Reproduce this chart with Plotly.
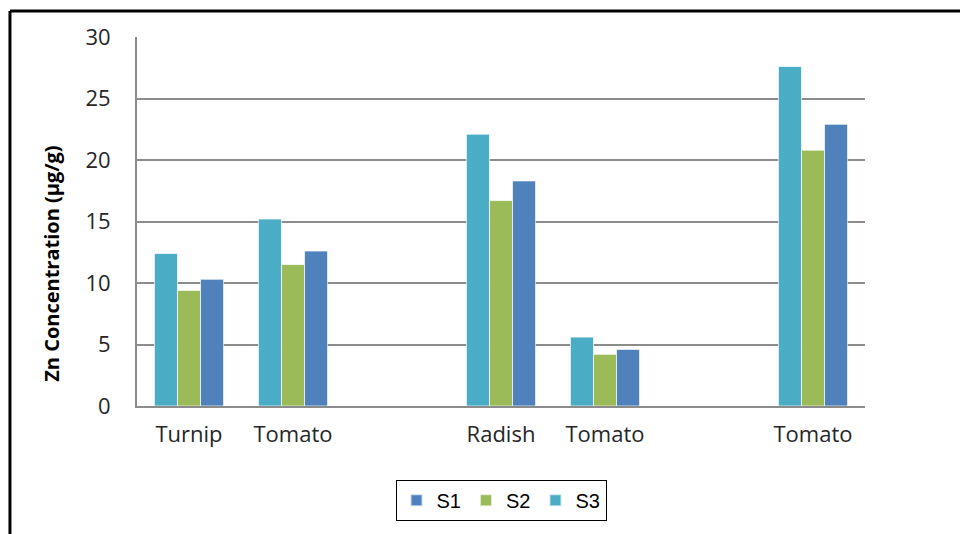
import plotly.graph_objects as go

# Crop slots along the x axis (blank slots separate the groups)
categories = ["Turnip", "Tomato", "", "Radish", "Tomato", "", "Tomato"]

# Zn concentration (µg/g) per crop for each site
s1 = [10.3, 12.6, None, 18.3, 4.6, None, 22.9]
s2 = [9.4, 11.5, None, 16.7, 4.2, None, 20.8]
s3 = [12.4, 15.2, None, 22.1, 5.6, None, 27.6]

yticks = [0, 5, 10, 15, 20, 25, 30]

colors = {"S1": "#4F81BD", "S2": "#9BBB59", "S3": "#4BACC6"}
xpos = list(range(len(categories)))

fig = go.Figure()
# Bars drawn S3, S2, S1 from left to right within each slot
for name, vals in [("S3", s3), ("S2", s2), ("S1", s1)]:
    fig.add_trace(go.Bar(
        x=xpos, y=vals, name=name,
        marker=dict(color=colors[name],
                    line=dict(color="rgba(255,255,255,0.7)", width=1)),
    ))

tick_font = dict(family="Open Sans, sans-serif", size=22, color="#262626")

fig.update_layout(
    width=960, height=534,
    margin=dict(l=137, r=95, t=37, b=128),
    paper_bgcolor="white", plot_bgcolor="white",
    barmode="group", bargap=0.335, bargroupgap=0,
    showlegend=True,
    legend=dict(
        orientation="h", traceorder="reversed",
        x=0.5, xanchor="center", y=-0.2, yanchor="top",
        bordercolor="#000000", borderwidth=1,
        font=dict(family="Liberation Sans, Arial, sans-serif", size=20, color="#000000"),
        itemwidth=30, itemsizing="constant",
    ),
    xaxis=dict(
        range=[-0.5, len(categories) - 0.5],
        tickmode="array", tickvals=xpos, ticktext=categories,
        showgrid=False, zeroline=False,
        showline=True, linecolor="#8C8C8C", linewidth=2,
        ticks="", tickfont=tick_font, ticklabelstandoff=8,
        fixedrange=True,
    ),
    yaxis=dict(
        range=[0, 30], tickmode="array", tickvals=yticks,
        showgrid=True, gridcolor="#8C8C8C", gridwidth=2,
        zeroline=False,
        showline=True, linecolor="#8C8C8C", linewidth=2,
        ticks="", tickfont=tick_font, ticklabelstandoff=20,
        fixedrange=True,
    ),
    annotations=[
        # Y-axis title, placed as a rotated annotation
        dict(text="<b>Zn Concentration (µg/g)</b>", textangle=-90,
             xref="paper", yref="paper", x=-0.117, y=0.385,
             xanchor="center", yanchor="middle", showarrow=False,
             font=dict(family="Open Sans, sans-serif", size=20, color="#000000")),
    ],
    shapes=[
        # Outer frame: left and top edges
        dict(type="line", xref="paper", yref="paper",
             x0=-0.1745, x1=-0.1745, y0=1.0705, y1=-0.40,
             line=dict(color="#000000", width=3)),
        dict(type="line", xref="paper", yref="paper",
             x0=-0.1745, x1=1.14, y0=1.0705, y1=1.0705,
             line=dict(color="#000000", width=3)),
    ],
)

fig.write_html("out.html")
